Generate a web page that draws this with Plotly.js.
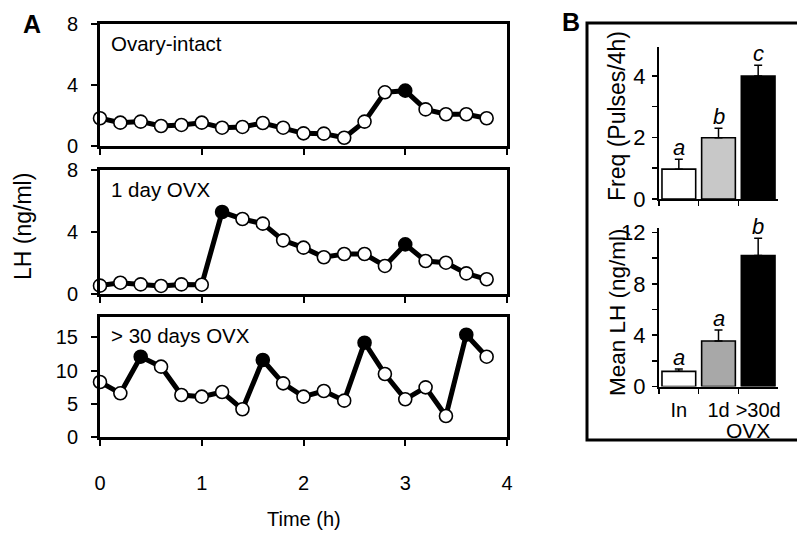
<!DOCTYPE html>
<html>
<head>
<meta charset="utf-8">
<script src="https://cdn.plot.ly/plotly-3.0.1.min.js"></script>
<style>html,body{margin:0;padding:0;background:#fff;}#chart{width:797px;height:533px;}</style>
</head>
<body>
<div id="chart"></div>
<script>
// ---------- DATA ----------
const timeH = [0,0.2,0.4,0.6,0.8,1.0,1.2,1.4,1.6,1.8,2.0,2.2,2.4,2.6,2.8,3.0,3.2,3.4,3.6,3.8];
const lhIntact = [1.82,1.53,1.6,1.31,1.38,1.53,1.2,1.25,1.51,1.2,0.83,0.81,0.54,1.6,3.52,3.63,2.4,2.08,2.08,1.82];
const pulseIntact = [0,0,0,0,0,0,0,0,0,0,0,0,0,0,0,1,0,0,0,0];
const lhOvx1d = [0.54,0.73,0.62,0.52,0.62,0.6,5.29,4.84,4.54,3.46,2.99,2.37,2.58,2.58,1.81,3.2,2.13,2.02,1.33,0.95];
const pulseOvx1d = [0,0,0,0,0,0,1,0,0,0,0,0,0,0,0,1,0,0,0,0];
const lhOvx30d = [8.3,6.6,12.1,10.6,6.35,6.1,6.8,4.2,11.6,8.1,6.1,6.95,5.5,14.2,9.5,5.7,7.5,3.2,15.4,12.1];
const pulseOvx30d = [0,0,1,0,0,0,0,0,1,0,0,0,0,1,0,0,0,0,1,0];

const groups = ['In','1d','>30d'];
const freqMean = [0.97,1.99,4.0];
const freqErr = [0.32,0.31,0.35];
const freqLetters = ['a','b','c'];
const meanLH = [1.18,3.54,10.2];
const meanLHErr = [0.18,0.86,1.35];
const meanLHLetters = ['a','a','b'];

const panelATitles = ['Ovary-intact','1 day OVX','> 30 days OVX'];
const timeTicks = [0,1,2,3,4];

// ---------- HELPERS ----------
const W = 797, H = 533;
const X = px => px / W;
const Y = py => 1 - py / H;
const FONT = 'Liberation Sans, Arial, Helvetica, sans-serif';

function lineTrace(y, pulses, xa, ya) {
  return {
    x: timeH, y: y, xaxis: xa, yaxis: ya, type: 'scatter', mode: 'lines+markers',
    line: {color: '#000', width: 5},
    marker: {size: 13, color: pulses.map(p => p ? '#000' : '#fff'), line: {color: '#000', width: 1.6}},
    cliponaxis: false, hoverinfo: 'x+y', showlegend: false
  };
}

const traces = [
  lineTrace(lhIntact, pulseIntact, 'x', 'y'),
  lineTrace(lhOvx1d, pulseOvx1d, 'x2', 'y2'),
  lineTrace(lhOvx30d, pulseOvx30d, 'x3', 'y3'),
  {
    x: groups, y: freqMean, xaxis: 'x4', yaxis: 'y4', type: 'bar',
    marker: {color: ['#ffffff','#c8c8c8','#000000'], line: {color: '#000', width: 1.6}},
    error_y: {type: 'data', symmetric: false, array: freqErr, arrayminus: freqErr.map(() => 0), color: '#000', thickness: 1.5, width: 4},
    showlegend: false
  },
  {
    x: groups, y: meanLH, xaxis: 'x5', yaxis: 'y5', type: 'bar',
    marker: {color: ['#ffffff','#a8a8a8','#000000'], line: {color: '#000', width: 1.6}},
    error_y: {type: 'data', symmetric: false, array: meanLHErr, arrayminus: meanLHErr.map(() => 0), color: '#000', thickness: 1.5, width: 4},
    showlegend: false
  }
];

const xDomA = [X(100), X(507)];
const yDoms = [[Y(146), Y(24)], [Y(294), Y(170)], [Y(437.3), Y(316.7)]];
const yRanges = [[0,8],[0,8],[0,18.1]];
const yTicks = [[0,4,8],[0,4,8],[0,5,10,15]];

function xAxisA(i, anchor) {
  return {
    domain: xDomA, anchor: anchor, range: [0,4], showline: true, mirror: true,
    linecolor: '#000', linewidth: 3, ticks: 'outside', ticklen: 6, tickwidth: 2, tickcolor: '#000',
    tickvals: timeTicks, showticklabels: i === 2, showgrid: false, zeroline: false,
    tickfont: {family: FONT, size: 20, color: '#000'}, ticklabelstandoff: 20, fixedrange: true
  };
}
function yAxisA(i, anchor) {
  return {
    domain: yDoms[i], anchor: anchor, range: yRanges[i], showline: true, mirror: true,
    linecolor: '#000', linewidth: 3, ticks: 'outside', ticklen: 6, tickwidth: 2, tickcolor: '#000',
    tickvals: yTicks[i], showgrid: false, zeroline: false,
    tickfont: {family: FONT, size: 20, color: '#000'}, ticklabelstandoff: 9, fixedrange: true
  };
}

const xDomB = [X(659), X(778)];
function xAxisB(anchor, labels) {
  return {
    domain: xDomB, anchor: anchor, type: 'category', range: [-0.5, 2.5], showline: true,
    linecolor: '#000', linewidth: 2, ticks: 'outside', tickson: 'boundaries', ticklen: 5, tickwidth: 1.5,
    tickcolor: '#000', showticklabels: labels, showgrid: false, zeroline: false, tickangle: 0,
    tickfont: {family: FONT, size: 20, color: '#000'}, ticklabelstandoff: 4, fixedrange: true
  };
}

const layout = {
  width: W, height: H, margin: {l: 0, r: 0, t: 0, b: 0},
  paper_bgcolor: '#fff', plot_bgcolor: 'rgba(0,0,0,0)',
  font: {family: FONT, color: '#000'},
  bargap: 0.15, showlegend: false,
  xaxis: xAxisA(0, 'y'), yaxis: yAxisA(0, 'x'),
  xaxis2: xAxisA(1, 'y2'), yaxis2: yAxisA(1, 'x2'),
  xaxis3: xAxisA(2, 'y3'), yaxis3: yAxisA(2, 'x3'),
  xaxis4: xAxisB('y4', false),
  yaxis4: {
    domain: [Y(199), Y(46.7)], anchor: 'x4', range: [0, 4.95], showline: true, linecolor: '#000', linewidth: 2,
    ticks: 'outside', ticklen: 5, tickwidth: 1.5, tickcolor: '#000',
    tickvals: [0,1,2,3,4,5], ticktext: ['0','','2','','4',''], showgrid: false, zeroline: false,
    tickfont: {family: FONT, size: 22, color: '#000'}, ticklabelstandoff: 2, fixedrange: true
  },
  xaxis5: xAxisB('y5', true),
  yaxis5: {
    domain: [Y(386.5), Y(228)], anchor: 'x5', range: [0, 12.35], showline: true, linecolor: '#000', linewidth: 2,
    ticks: 'outside', ticklen: 5, tickwidth: 1.5, tickcolor: '#000',
    tickvals: [0,2,4,6,8,10,12], ticktext: ['0','','4','','8','','12'], showgrid: false, zeroline: false,
    tickfont: {family: FONT, size: 22, color: '#000'}, ticklabelstandoff: 2, fixedrange: true
  },
  shapes: [
    {type: 'rect', xref: 'paper', yref: 'paper', x0: X(587), x1: X(805), y0: Y(440), y1: Y(23),
     line: {color: '#000', width: 3}, fillcolor: 'rgba(0,0,0,0)'}
  ],
  annotations: []
};

const ann = layout.annotations;
const txt = (text, px, py, opts) => Object.assign({
  text: text, xref: 'paper', yref: 'paper', x: X(px), y: Y(py), showarrow: false,
  xanchor: 'center', yanchor: 'middle', font: {family: FONT, size: 20, color: '#000'}
}, opts || {});

ann.push(txt('<b>A</b>', 32, 24, {font: {family: FONT, size: 25, color: '#000'}}));
ann.push(txt('<b>B</b>', 571, 22, {font: {family: FONT, size: 25, color: '#000'}}));
const titleY = [43, 189, 335];
panelATitles.forEach((t, i) => ann.push(txt(t, 109, titleY[i], {xanchor: 'left', font: {family: FONT, size: 20.5, color: '#000'}})));
ann.push(txt('Time (h)', 304, 519));
ann.push(txt('LH (ng/ml)', 23, 227, {textangle: -90, font: {family: FONT, size: 23, color: '#000'}}));
ann.push(txt('Freq (Pulses/4h)', 617, 116, {textangle: -90, font: {family: FONT, size: 23, color: '#000'}}));
ann.push(txt('Mean LH (ng/ml)', 617, 312, {textangle: -90, font: {family: FONT, size: 22.5, color: '#000'}}));
ann.push(txt('OVX', 748, 430, {font: {family: FONT, size: 21, color: '#000'}}));

groups.forEach((g, i) => {
  ann.push({text: '<i>' + freqLetters[i] + '</i>', xref: 'x4', yref: 'y4', x: g, y: freqMean[i] + freqErr[i],
    showarrow: false, xanchor: 'center', yanchor: 'bottom', yshift: -3, font: {family: FONT, size: 22, color: '#000'}});
  ann.push({text: '<i>' + meanLHLetters[i] + '</i>', xref: 'x5', yref: 'y5', x: g, y: meanLH[i] + meanLHErr[i],
    showarrow: false, xanchor: 'center', yanchor: 'bottom', yshift: -3, font: {family: FONT, size: 22, color: '#000'}});
});

Plotly.newPlot('chart', traces, layout, {displayModeBar: false, staticPlot: true});
</script>
</body>
</html>
